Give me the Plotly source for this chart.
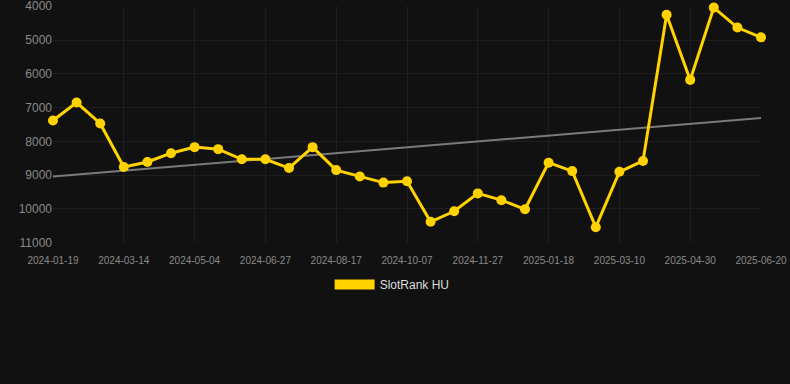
import numpy as np
import plotly.graph_objects as go

dates = [
    "2024-01-19", "2024-02-06", "2024-02-25", "2024-03-14", "2024-03-31", "2024-04-17",
    "2024-05-04", "2024-05-22", "2024-06-09", "2024-06-27", "2024-07-14", "2024-07-31",
    "2024-08-17", "2024-09-03", "2024-09-20", "2024-10-07", "2024-10-24", "2024-11-10",
    "2024-11-27", "2024-12-14", "2024-12-31", "2025-01-18", "2025-02-04", "2025-02-21",
    "2025-03-10", "2025-03-27", "2025-04-13", "2025-04-30", "2025-05-17", "2025-06-03",
    "2025-06-20",
]
rank = [
    7380, 6850, 7470, 8760, 8610, 8350, 8170, 8230, 8530, 8530, 8790,
    8170, 8850, 9040, 9220, 9180, 10380, 10070, 9540, 9740, 10010,
    8630, 8880, 10540, 8900, 8580, 4250, 6180, 4040, 4630, 4920,
]
tick_labels = dates[::3]
y_ticks = [4000, 5000, 6000, 7000, 8000, 9000, 10000, 11000]
y_tick_text = [str(v) for v in y_ticks]
series_name = "SlotRank HU"

idx = np.arange(len(rank))
slope, intercept = np.polyfit(idx, rank, 1)
trend = slope * idx + intercept

YELLOW = "#FFD200"
BG = "#111111"
GRID = "#1e1e1e"

fig = go.Figure()
fig.add_trace(go.Scatter(
    x=dates, y=trend, mode="lines",
    line=dict(color="#7a7a7a", width=2),
    showlegend=False, hoverinfo="skip",
))
fig.add_trace(go.Scatter(
    x=dates, y=rank, mode="lines+markers",
    line=dict(color=YELLOW, width=3),
    marker=dict(color=YELLOW, size=10),
    showlegend=False, cliponaxis=False,
))
fig.add_trace(go.Scatter(
    x=[None], y=[None], mode="lines",
    line=dict(color=YELLOW, width=12),
    name=series_name, showlegend=True,
))

fig.update_layout(
    width=790, height=384,
    paper_bgcolor=BG, plot_bgcolor=BG,
    margin=dict(l=53, r=29, t=6, b=141),
    font=dict(family="Liberation Sans, Arial, sans-serif", color="#8a8a8a", size=11),
    legend=dict(
        orientation="h", x=0.479, xanchor="center", y=-0.114, yanchor="top",
        font=dict(color="#dddddd", size=12), itemwidth=40,
        bgcolor="rgba(0,0,0,0)",
    ),
    xaxis=dict(
        type="category", range=[0, len(dates) - 1],
        tickmode="array", tickvals=tick_labels, ticktext=tick_labels,
        showgrid=True, gridcolor=GRID, gridwidth=1,
        zeroline=False, showline=False, ticks="",
        ticklabelstandoff=10, automargin=False, ticklabeloverflow="allow",
        tickfont=dict(size=10, color="#8a8a8a"),
    ),
    yaxis=dict(
        range=[11008, 3992], tickmode="array", tickvals=y_ticks, ticktext=y_tick_text,
        showgrid=True, gridcolor=GRID, gridwidth=1,
        zeroline=False, showline=False, ticks="",
        automargin=False, ticklabeloverflow="allow",
        tickfont=dict(size=12, color="#8a8a8a"),
    ),
)

fig.write_html("out.html", config={"displayModeBar": False},
               post_script="document.body.style.margin='0';")
